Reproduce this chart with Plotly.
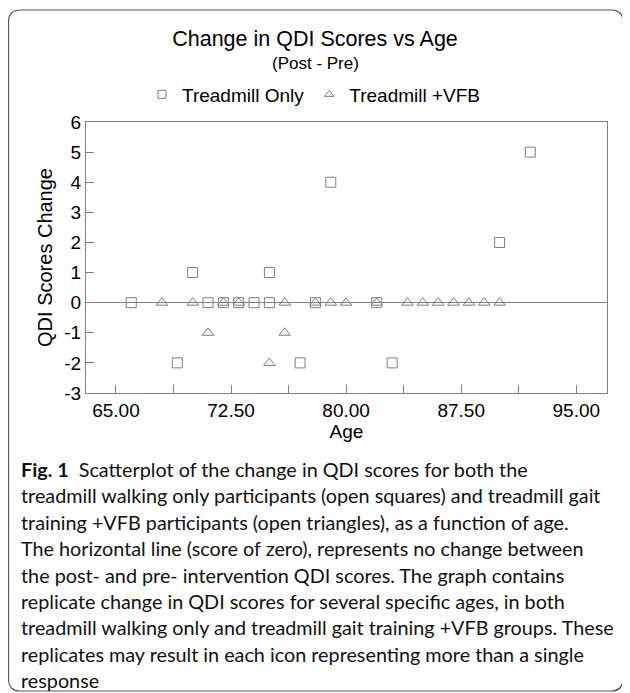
import plotly.graph_objects as go

# ---- data ----
sq_age = [66, 69, 70, 71, 72, 73, 74, 75, 75, 77, 78, 79, 82, 83, 90, 92]
sq_chg = [0, -2, 1, 0, 0, 0, 0, 0, 1, -2, 0, 4, 0, -2, 2, 5]
tri_age = [68, 70, 71, 72, 73, 75, 76, 76, 78, 79, 80, 82, 84, 85, 86, 87, 88, 89, 90]
tri_chg = [0, 0, -1, 0, 0, -2, 0, -1, 0, 0, 0, 0, 0, 0, 0, 0, 0, 0, 0]
x_ticks = [65.0, 72.5, 80.0, 87.5, 95.0]
x_tick_text = ["65.00", "72.50", "80.00", "87.50", "95.00"]
x_minor = [68.75, 76.25, 83.75, 91.25]
y_ticks = [-3, -2, -1, 0, 1, 2, 3, 4, 5, 6]
y_tick_text = ["-3", "-2", "-1", "0", "1", "2", "3", "4", "5", "6"]
caption_lines = [
    "<b>Fig. 1</b>  Scatterplot of the change in QDI scores for both the",
    "treadmill walking only participants (open squares) and treadmill gait",
    "training +VFB participants (open triangles), as a function of age.",
    "The horizontal line (score of zero), represents no change between",
    "the post- and pre- intervention QDI scores. The graph contains",
    "replicate change in QDI scores for several specific ages, in both",
    "treadmill walking only and treadmill gait training +VFB groups. These",
    "replicates may result in each icon representing more than a single",
    "response",
]

# page body has an 8px margin; work in reference pixels and shift
OFF = 8
W, H = 630 - OFF, 693 - OFF
L, R, T, B = 86, 607, 122, 393  # plot area in reference pixels
PW, PH = R - L, B - T


def px_x(px):
    return (px - L) / PW


def px_y(py):
    return (B - py) / PH


GRAY = "#7f7f7f"
FONT = "Liberation Sans, Arial, sans-serif"

fig = go.Figure()
fig.add_trace(go.Scatter(
    x=sq_age, y=sq_chg, mode="markers", name="Treadmill Only", showlegend=False,
    marker=dict(symbol="square-open", size=10, color=GRAY, line=dict(width=1, color=GRAY)),
))
fig.add_trace(go.Scatter(
    x=tri_age, y=tri_chg, mode="markers", name="Treadmill +VFB", showlegend=False,
    marker=dict(symbol="triangle-up-open", size=10, color=GRAY, line=dict(width=1, color=GRAY)),
))
# legend entries (smaller symbols as in the reference)
fig.add_trace(go.Scatter(
    x=[None], y=[None], mode="markers", name="Treadmill Only",
    marker=dict(symbol="square-open", size=8, color=GRAY, line=dict(width=1, color=GRAY)),
))
fig.add_trace(go.Scatter(
    x=[None], y=[None], mode="markers", name="Treadmill +VFB",
    marker=dict(symbol="triangle-up-open", size=8, color=GRAY, line=dict(width=1, color=GRAY)),
))

axis_common = dict(
    showline=True, linecolor=GRAY, linewidth=1, mirror=True,
    ticks="inside", ticklen=8, tickcolor=GRAY, tickwidth=1,
    showgrid=False, tickfont=dict(family=FONT, size=19, color="black"),
)

fig.update_xaxes(
    range=[63.05, 97.0], tickmode="array", tickvals=x_ticks, ticktext=x_tick_text,
    zeroline=False,
    title=dict(text="Age", font=dict(family=FONT, size=19, color="black"), standoff=2),
    minor=dict(tickmode="array", tickvals=x_minor, ticks="inside", ticklen=8, tickcolor=GRAY),
    **axis_common,
)
fig.update_yaxes(
    range=[-3, 6], tickmode="array", tickvals=y_ticks, ticktext=y_tick_text,
    zeroline=True, zerolinecolor=GRAY, zerolinewidth=1,
    title=dict(text="QDI Scores Change", font=dict(family=FONT, size=20, color="black"), standoff=6),
    **axis_common,
)

annotations = [
    dict(text="(Post - Pre)", x=px_x(315), y=px_y(63), xref="paper", yref="paper",
         showarrow=False, xanchor="center", yanchor="middle",
         font=dict(family=FONT, size=17, color="black")),
]
y0 = 469
dy = 26.4
for i, line in enumerate(caption_lines):
    annotations.append(dict(
        text=line, x=px_x(19), y=px_y(y0 + i * dy), xref="paper", yref="paper",
        showarrow=False, xanchor="left", yanchor="middle", align="left",
        font=dict(family="Lato, Noto Sans, sans-serif", size=19.8, color="#111"),
    ))

# rounded frame around figure+caption
bx0, by0, bx1, by1, rr = 8.5, 10, 623, 691, 12


def P(px, py):
    return f"{px_x(px):.5f},{px_y(py):.5f}"


path = (
    f"M {P(bx0 + rr, by0)} L {P(bx1 - rr, by0)} Q {P(bx1, by0)} {P(bx1, by0 + rr)} "
    f"L {P(bx1, by1 - rr)} Q {P(bx1, by1)} {P(bx1 - rr, by1)} "
    f"L {P(bx0 + rr, by1)} Q {P(bx0, by1)} {P(bx0, by1 - rr)} "
    f"L {P(bx0, by0 + rr)} Q {P(bx0, by0)} {P(bx0 + rr, by0)} Z"
)
shapes = [dict(type="path", path=path, xref="paper", yref="paper",
               line=dict(color="#555555", width=1.2), layer="below")]

fig.update_layout(
    width=W, height=H,
    margin=dict(l=L - OFF, r=630 - R, t=T - OFF, b=693 - B, autoexpand=False),
    paper_bgcolor="white", plot_bgcolor="white",
    title=dict(text="Change in QDI Scores vs Age", x=(315 - OFF) / W, xanchor="center",
               y=1 - (38 - OFF) / H, yanchor="middle", yref="container",
               font=dict(family=FONT, size=21.5, color="black")),
    legend=dict(orientation="h", x=px_x(142), xanchor="left", y=px_y(94.5), yanchor="middle",
                font=dict(family=FONT, size=19, color="black"), bgcolor="rgba(0,0,0,0)",
                itemwidth=30),
    showlegend=True,
    annotations=annotations,
    shapes=shapes,
)

fig.write_html("out.html")
